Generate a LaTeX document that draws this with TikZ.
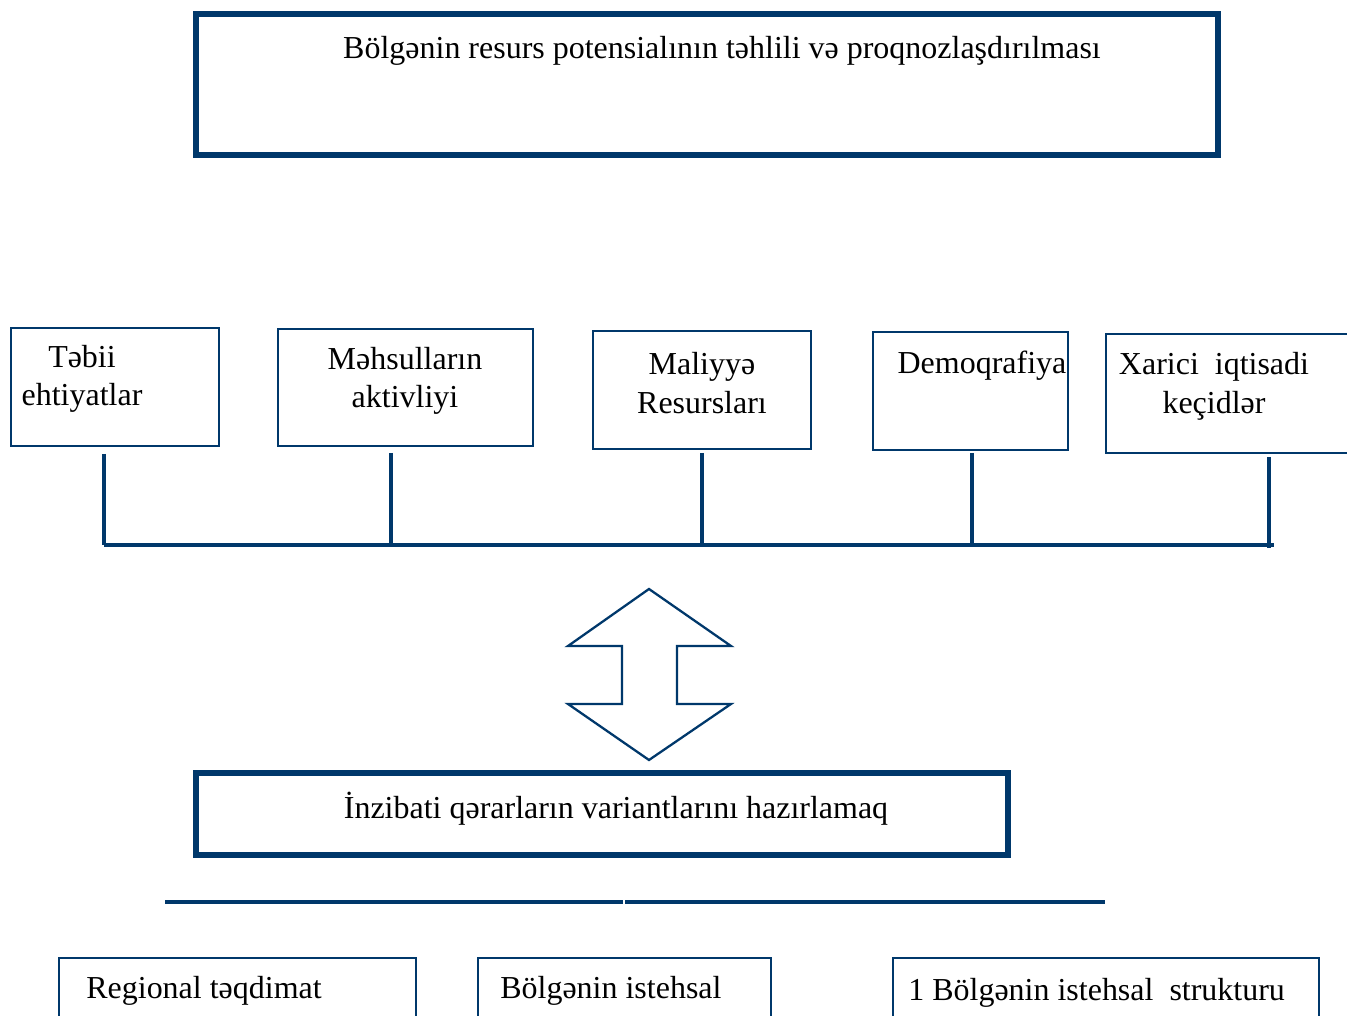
\documentclass[tikz,border=0pt]{standalone}
\usepackage{fontspec}
\setmainfont{Liberation Serif}
\usetikzlibrary{fit}
\definecolor{navy}{RGB}{0,56,107}
\tikzset{
  thickbox/.style={draw=navy, line width=3pt, inner sep=0pt, fill=white},
  thinbox/.style={draw=navy, line width=0.9pt, inner sep=0pt},
  bar/.style={draw=navy, line width=2.8pt},
  lbl/.style={font=\fontsize{18.2}{22}\selectfont, inner sep=0pt, align=center, text=black},
  lbll/.style={font=\fontsize{18.2}{22}\selectfont, inner sep=0pt, anchor=west, text=black},
}
\begin{document}
\begin{tikzpicture}[x=0.02cm,y=-0.02cm]
\useasboundingbox (0,0) rectangle (1347,1016);
\clip (0,0) rectangle (1347,1016);
% top box
\node[thickbox, fit={(196,14) (1218,155)}] (top) {};
\node[lbl] (toptxt) at (722,51) {Bölgənin resurs potensialının təhlili və proqnozlaşdırılması};
% middle boxes
\node[thinbox, fit={(11,328) (219,446)}] (b1) {};
\node[thinbox, fit={(278,329) (533,446)}] (b2) {};
\node[thinbox, fit={(593,331) (811,449)}] (b3) {};
\node[thinbox, fit={(873,332) (1068,450)}] (b4) {};
\node[thinbox, fit={(1106,334) (1360,453)}] (b5) {};
\node[lbl] (t1) at (82,379) {Təbii\\ehtiyatlar};
\node[lbl] (t2) at (405,381) {Məhsulların\\aktivliyi};
\node[lbl] (t3) at (702,383) {Maliyyə\\Resursları};
\node[lbl] (t4) at (982,366) {Demoqrafiya};
\node[lbl] (t5) at (1214,386) {Xarici\ \ iqtisadi\\keçidlər};
% connectors
\coordinate (h1) at (104,545);
\coordinate (h2) at (391,545);
\coordinate (h3) at (702,545);
\coordinate (h4) at (972,545);
\coordinate (h5) at (1269,545);
\coordinate (hend) at (1274,545);
\coordinate (v1) at (104,454);
\coordinate (v2) at (391,453);
\coordinate (v3) at (702,453);
\coordinate (v4) at (972,453);
\coordinate (v5) at (1269,457);
\draw[bar] (v1) -- (h1);
\draw[bar] (v2) -- (h2);
\draw[bar] (v3) -- (h3);
\draw[bar] (v4) -- (h4);
\draw[bar] (v5) -- (1269,548);
\draw[bar] (h1) -- (hend);
% double arrow
\draw[draw=navy, line width=1.3pt, line join=miter]
  (649,589) -- (731,646) -- (677,646) -- (677,704) -- (731,704) -- (649,760)
  -- (568,704) -- (622,704) -- (622,646) -- (568,646) -- cycle;
% admin box
\node[thickbox, fit={(196,773) (1008,855)}] (adm) {};
\node[lbl] (admtxt) at (616,809) {İnzibati qərarların variantlarını hazırlamaq};
% bottom bar
\coordinate (bl) at (165,902);
\coordinate (br) at (1105,902);
\draw[bar] (bl) -- (br);
\draw[draw=white, line width=0.8pt] (624,900) -- (624,904);
% bottom boxes
\node[thinbox, fit={(59,958) (416,1040)}] (c1) {};
\node[thinbox, fit={(478,958) (771,1040)}] (c2) {};
\node[thinbox, fit={(893,958) (1319,1040)}] (c3) {};
\node[lbll] (ct1) at (86,991) {Regional təqdimat};
\node[lbll] (ct2) at (500,991) {Bölgənin istehsal};
\node[lbll] (ct3) at (908,993) {1 Bölgənin istehsal\ \ strukturu};
\end{tikzpicture}
\end{document}
